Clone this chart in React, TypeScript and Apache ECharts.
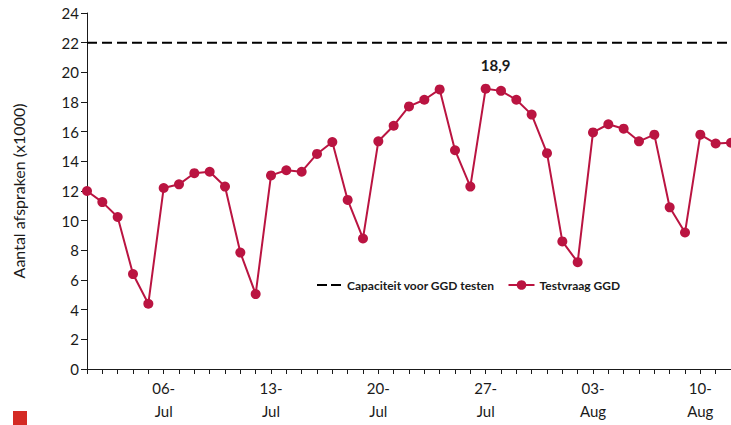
import React, { useEffect, useRef } from "react";
import * as echarts from "echarts";

const categories = [
  "01-Jul", "02-Jul", "03-Jul", "04-Jul", "05-Jul", "06-Jul", "07-Jul", "08-Jul", "09-Jul", "10-Jul",
  "11-Jul", "12-Jul", "13-Jul", "14-Jul", "15-Jul", "16-Jul", "17-Jul", "18-Jul", "19-Jul", "20-Jul",
  "21-Jul", "22-Jul", "23-Jul", "24-Jul", "25-Jul", "26-Jul", "27-Jul", "28-Jul", "29-Jul", "30-Jul",
  "31-Jul", "01-Aug", "02-Aug", "03-Aug", "04-Aug", "05-Aug", "06-Aug", "07-Aug", "08-Aug", "09-Aug",
  "10-Aug", "11-Aug", "12-Aug",
];

const testvraag = [
  12.0, 11.25, 10.25, 6.4, 4.4, 12.2, 12.45, 13.2, 13.3, 12.3,
  7.85, 5.05, 13.05, 13.4, 13.3, 14.5, 15.3, 11.4, 8.8, 15.35,
  16.4, 17.7, 18.15, 18.85, 14.75, 12.3, 18.9, 18.75, 18.15, 17.15,
  14.55, 8.6, 7.2, 15.95, 16.5, 16.2, 15.35, 15.8, 10.9, 9.2,
  15.8, 15.2, 15.25,
];

const CAPACITY = 22;
const capaciteit = categories.map(() => CAPACITY);

const peakIndex = 26;
const peakLabel = "18,9";

const yTicks = { min: 0, max: 24, interval: 2 };

const RED = "#BA1441";
const TEXT = "#1a1a1a";
const FONT = "Lato, 'Open Sans', sans-serif";
const DASH_ICON = "path://M0,0 M24,12 M0,5 L10,5 L10,7 L0,7 Z M14,5 L24,5 L24,7 L14,7 Z";

export default function App() {
  const ref = useRef<HTMLDivElement>(null);
  useEffect(() => {
    if (!ref.current) return;
    const chart = echarts.init(ref.current, undefined, { renderer: "svg" });
    chart.setOption({
      animation: false,
      textStyle: { fontFamily: FONT },
      grid: { left: 87, right: -1, top: 13, bottom: 56, containLabel: false },
      legend: {
        left: 312,
        top: 274,
        itemWidth: 26,
        itemHeight: 12,
        itemGap: 13,
        textStyle: { fontSize: 12, fontWeight: "bold", color: TEXT, fontFamily: FONT },
        data: [
          { name: "Capaciteit voor GGD testen", icon: DASH_ICON, itemStyle: { color: "#000" } },
          { name: "Testvraag GGD" },
        ],
      },
      xAxis: {
        type: "category",
        boundaryGap: false,
        data: categories,
        axisLine: { lineStyle: { color: TEXT, width: 1 } },
        axisTick: { show: true, interval: 0, length: 5, lineStyle: { color: TEXT } },
        axisLabel: {
          interval: (i: number) => (i - 5) % 7 === 0,
          formatter: (v: string) => v.replace("-", "-\n"),
          fontSize: 15,
          lineHeight: 23,
          color: TEXT,
          margin: 7,
        },
        splitLine: { show: false },
      },
      yAxis: {
        type: "value",
        min: yTicks.min,
        max: yTicks.max,
        interval: yTicks.interval,
        name: "Aantal afspraken (x1000)",
        nameLocation: "middle",
        nameRotate: 90,
        nameGap: 61,
        nameTextStyle: { fontSize: 16, color: TEXT },
        axisLine: { show: true, lineStyle: { color: TEXT, width: 1 } },
        axisTick: { show: true, length: 6, lineStyle: { color: TEXT } },
        axisLabel: { fontSize: 15, color: TEXT, margin: 8 },
        splitLine: { show: false },
      },
      series: [
        {
          name: "Capaciteit voor GGD testen",
          type: "line",
          data: capaciteit,
          symbol: "none",
          lineStyle: { color: "#000", width: 2, type: [10, 5] },
          itemStyle: { color: "#000" },
          z: 1,
        },
        {
          name: "Testvraag GGD",
          type: "line",
          data: testvraag.map((v, i) =>
            i === peakIndex
              ? {
                  value: v,
                  label: {
                    show: true,
                    position: "top",
                    formatter: peakLabel,
                    fontSize: 15,
                    fontWeight: "bold",
                    color: TEXT,
                    offset: [10, -6],
                  },
                }
              : v
          ),
          symbol: "circle",
          symbolSize: 10,
          showSymbol: true,
          showAllSymbol: true,
          lineStyle: { color: RED, width: 2 },
          itemStyle: { color: RED },
          z: 2,
        },
      ],
      graphic: [
        {
          type: "rect",
          left: 13,
          top: 411,
          shape: { width: 14, height: 14 },
          style: { fill: "#D42A24" },
        },
      ],
    });
    return () => chart.dispose();
  }, []);
  return (
    <div
      ref={ref}
      style={{ position: "absolute", left: 0, top: 0, width: 731, height: 425, overflow: "hidden" }}
    />
  );
}
